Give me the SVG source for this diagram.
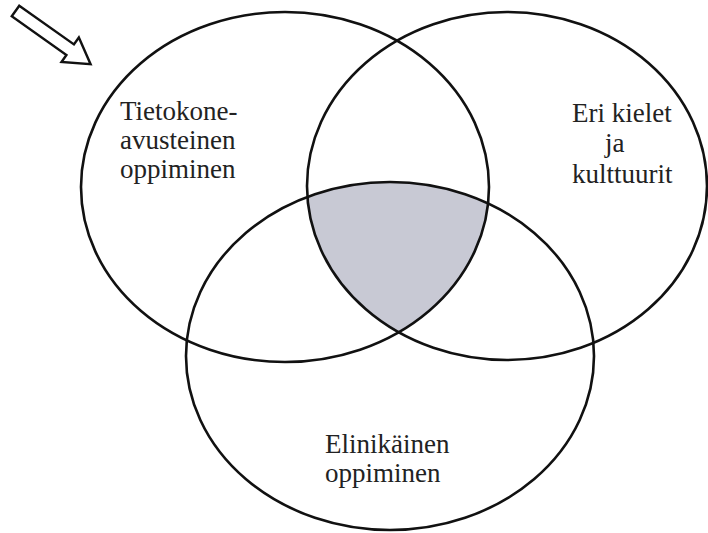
<svg xmlns="http://www.w3.org/2000/svg" width="708" height="533" viewBox="0 0 708 533">
  <style>
    .ring { fill: none; stroke: #111; stroke-width: 2.6; }
    .label { font-family: "Liberation Serif", "Times New Roman", serif; font-size: 27px; fill: #222; }
    .core { fill: #c8c9d4; }
    .pointer { fill: #fff; stroke: #111; stroke-width: 2.4; stroke-linejoin: miter; }
  </style>
  <defs>
    <ellipse id="e-left" cx="285" cy="187" rx="204" ry="175"/>
    <ellipse id="e-right" cx="507" cy="186" rx="200" ry="174"/>
    <ellipse id="e-bottom" cx="390" cy="356" rx="204" ry="174"/>
    <clipPath id="clip-left"><use href="#e-left"/></clipPath>
    <clipPath id="clip-right"><use href="#e-right"/></clipPath>
  </defs>
  <rect width="708" height="533" fill="#fff"/>

  <!-- common area of all three sets -->
  <g id="intersection" clip-path="url(#clip-left)">
    <g clip-path="url(#clip-right)">
      <use href="#e-bottom" class="core"/>
    </g>
  </g>

  <g id="node-computer">
    <use href="#e-left" class="ring"/>
    <text class="label" x="120" y="120">Tietokone-</text>
    <text class="label" x="120" y="149">avusteinen</text>
    <text class="label" x="120" y="178">oppiminen</text>
  </g>

  <g id="node-languages">
    <use href="#e-right" class="ring"/>
    <text class="label" x="572" y="122">Eri kielet</text>
    <text class="label" x="605" y="152">ja</text>
    <text class="label" x="572" y="183">kulttuurit</text>
  </g>

  <g id="node-lifelong">
    <use href="#e-bottom" class="ring"/>
    <text class="label" x="325" y="453">Elinikäinen</text>
    <text class="label" x="325" y="482">oppiminen</text>
  </g>

  <g id="connectors">
    <path class="pointer" transform="translate(15.5 11) rotate(35.3)" d="M0,-6.5 L67,-6.5 L67,-15 L92,0 L67,15 L67,6.5 L0,6.5 Z"/>
  </g>
</svg>
